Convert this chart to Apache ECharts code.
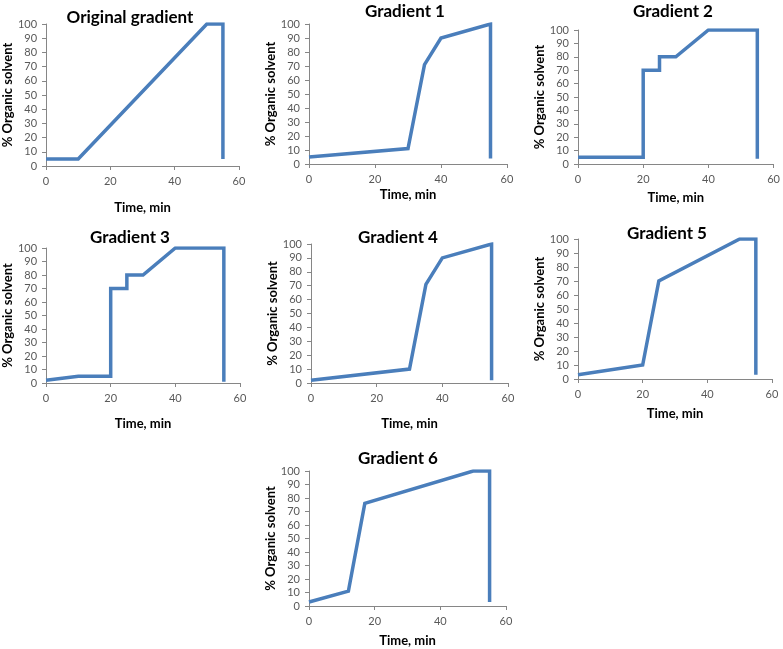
<!DOCTYPE html>
<html>
<head>
<meta charset="utf-8">
<script src="https://cdn.jsdelivr.net/npm/echarts@6/dist/echarts.min.js"></script>
<style>
html,body{margin:0;padding:0;background:#fff;}
#c{width:783px;height:649px;}
</style>
</head>
<body>
<div id="c"></div>
<script>
// Titles of the panels
const panelTitles = ['Original gradient','Gradient 1','Gradient 2','Gradient 3','Gradient 4','Gradient 5','Gradient 6'];
// Time (min) and % organic solvent for each gradient
const timeOrig = [0, 10, 50, 55, 55];
const orgOrig  = [5, 5, 100, 100, 5];
const timeG1 = [0, 30, 35, 40, 55, 55];
const orgG1  = [5, 11, 71, 90, 100, 4];
const timeG2 = [0, 20, 20, 25, 25, 30, 40, 55, 55];
const orgG2  = [5, 5, 70, 70, 80, 80, 100, 100, 4];
const timeG3 = [0, 10, 20, 20, 25, 25, 30, 40, 55, 55];
const orgG3  = [2, 5, 5, 70, 70, 80, 80, 100, 100, 1];
const timeG4 = [0, 30, 35, 40, 55, 55];
const orgG4  = [2, 10, 71, 90, 100, 2];
const timeG5 = [0, 20, 25, 50, 55, 55];
const orgG5  = [3, 10, 70, 100, 100, 3];
const timeG6 = [0, 12, 17, 50, 55, 55];
const orgG6  = [3, 11, 76, 100, 100, 3];
// Axis tick labels
const xTicks = [0, 20, 40, 60];
const yTicks = [0, 10, 20, 30, 40, 50, 60, 70, 80, 90, 100];
const xName = 'Time, min';
const yName = '% Organic solvent';

const times = [timeOrig, timeG1, timeG2, timeG3, timeG4, timeG5, timeG6];
const orgs = [orgOrig, orgG1, orgG2, orgG3, orgG4, orgG5, orgG6];

// layout: plot areas [left, top, width, height], title center [x,y], x-name gap, y-name gap
const layout = [
  {g:[44,24,195,142], t:[125,13], xg:35, yg:29},
  {g:[309,24,198,140], t:[400,7], xg:24, yg:27},
  {g:[578,30,197,134], t:[668,7], xg:27, yg:29},
  {g:[46,248,194,135], t:[125,233], xg:34, yg:31},
  {g:[311,244,197,139], t:[393,233], xg:34, yg:31},
  {g:[578,239,194,140], t:[662,229], xg:28, yg:29},
  {g:[309,471,197,135], t:[393,454], xg:28, yg:29}
];

const FONT = 'Lato';
const grid = [], xAxis = [], yAxis = [], series = [], title = [];
layout.forEach((L, i) => {
  grid.push({left:L.g[0], top:L.g[1], width:L.g[2], height:L.g[3], containLabel:false});
  title.push({
    text: panelTitles[i], left: L.t[0], top: L.t[1], textAlign:'center', textVerticalAlign:'middle',
    textStyle:{fontFamily:FONT, fontWeight:'bold', fontSize:17, color:'#000'}
  });
  xAxis.push({
    type:'value', gridIndex:i, min:xTicks[0], max:xTicks[xTicks.length-1], interval:xTicks[1]-xTicks[0],
    name:xName, nameLocation:'middle', nameGap:L.xg,
    nameTextStyle:{fontFamily:FONT, fontWeight:'bold', fontSize:13, color:'#000'},
    axisLine:{show:true, lineStyle:{color:'#868686', width:1}},
    axisTick:{show:true, length:4, lineStyle:{color:'#868686'}},
    axisLabel:{fontFamily:FONT, fontSize:11, color:'#595959', margin:10},
    splitLine:{show:false}
  });
  yAxis.push({
    type:'value', gridIndex:i, min:yTicks[0], max:yTicks[yTicks.length-1], interval:yTicks[1]-yTicks[0],
    name:yName, nameLocation:'middle', nameGap:L.yg, nameRotate:90,
    nameTextStyle:{fontFamily:FONT, fontWeight:'bold', fontSize:13, color:'#000'},
    axisLine:{show:true, lineStyle:{color:'#868686', width:1}},
    axisTick:{show:true, length:4, lineStyle:{color:'#868686'}},
    axisLabel:{fontFamily:FONT, fontSize:11, color:'#595959', margin:9},
    splitLine:{show:false}
  });
  series.push({
    type:'line', xAxisIndex:i, yAxisIndex:i, showSymbol:false, symbol:'none', animation:false,
    lineStyle:{color:'#4A7EBB', width:3.5, join:'miter'},
    data: times[i].map((t, k) => [t, orgs[i][k]])
  });
});

const chart = echarts.init(document.getElementById('c'), null, {renderer:'canvas'});
chart.setOption({animation:false, backgroundColor:'#fff', title, grid, xAxis, yAxis, series});
</script>
</body>
</html>
